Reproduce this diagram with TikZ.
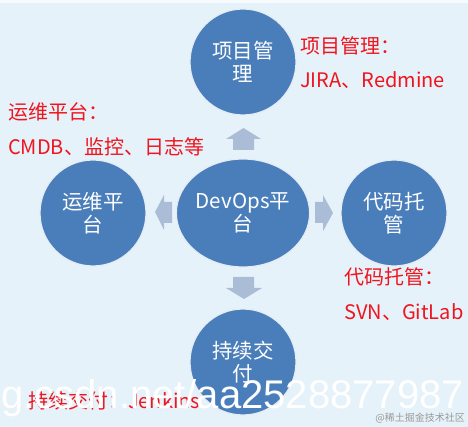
\documentclass[tikz,border=0pt]{standalone}
\usepackage{fontspec}
\setmainfont{Noto Sans CJK SC}
\newfontfamily\wmfont{Liberation Sans}
\usetikzlibrary{shapes.geometric}
\definecolor{bgc}{HTML}{E6F2F9}
\definecolor{circc}{HTML}{4A7EBA}
\definecolor{arrc}{HTML}{AABCD6}
\definecolor{redc}{HTML}{F0141E}
\tikzset{
  blob/.style={ellipse, fill=circc, draw=white!85!circc, line width=1.2pt, inner sep=0pt,
    text=white, align=center, font=\fontsize{20.5}{23}\selectfont},
  note/.style={anchor=west, text=redc, inner sep=0pt, font=\fontsize{20}{22}\selectfont},
  blockarrow/.style={fill=arrc}
}
\begin{document}
\begin{tikzpicture}[x=1pt,y=-1pt]
\path[use as bounding box] (0,0) rectangle (468,427);
\fill[bgc] (0,0) rectangle (468,427);
\fill[white!70!bgc] (0,0) rectangle (468,3);

\node[blob, minimum width=106pt, minimum height=106pt] (pm) at (243,62) {项目管\\理};
\node[blob, minimum width=106pt, minimum height=106pt] (ops) at (93,213) {运维平\\台};
\node[blob, minimum width=128pt, minimum height=108pt] (dev) at (243,213) {DevOps平\\台};
\node[blob, minimum width=106pt, minimum height=106pt] (code) at (394,213) {代码托\\管};
\node[blob, minimum width=106pt, minimum height=106pt] (cd) at (243,362) {持续交\\付};

% block arrows
\fill[blockarrow] (226,139) -- (243.5,128) -- (261,139) -- (254,139) -- (254,150) -- (233,150) -- (233,139) -- cycle;
\fill[blockarrow] (233,277) -- (254,277) -- (254,288) -- (262,288) -- (244,299) -- (226,288) -- (233,288) -- cycle;
\fill[blockarrow] (155,212) -- (164,195) -- (164,202) -- (172,202) -- (172,223) -- (164,223) -- (164,230) -- cycle;
\fill[blockarrow] (333,213) -- (323,195) -- (323,202) -- (315,202) -- (315,223) -- (323,223) -- (323,231) -- cycle;

% red notes
\node[note] (pmt) at (300,46) {项目管理：};
\node[note] (pmd) at (300,80) {JIRA、Redmine};
\node[note] (opst) at (8,112) {运维平台：};
\node[note] (opsd) at (8,147) {CMDB、监控、日志等};
\node[note] (codet) at (344,277) {代码托管：};
\node[note] (coded) at (344,312) {SVN、GitLab};
\node[note] (cdt) at (28,401) {持续交付：Jenkins};

% watermarks
\node[anchor=base west, inner sep=0pt, text=white, font=\wmfont\fontsize{40}{40}\selectfont] (wm) at (1,408) {g.csdn.net/aa2528877987};
\node[anchor=east, inner sep=0pt, text=black!40, font=\fontsize{10}{10}\selectfont] (wm2) at (465,418) {@稀土掘金技术社区};
\end{tikzpicture}
\end{document}
